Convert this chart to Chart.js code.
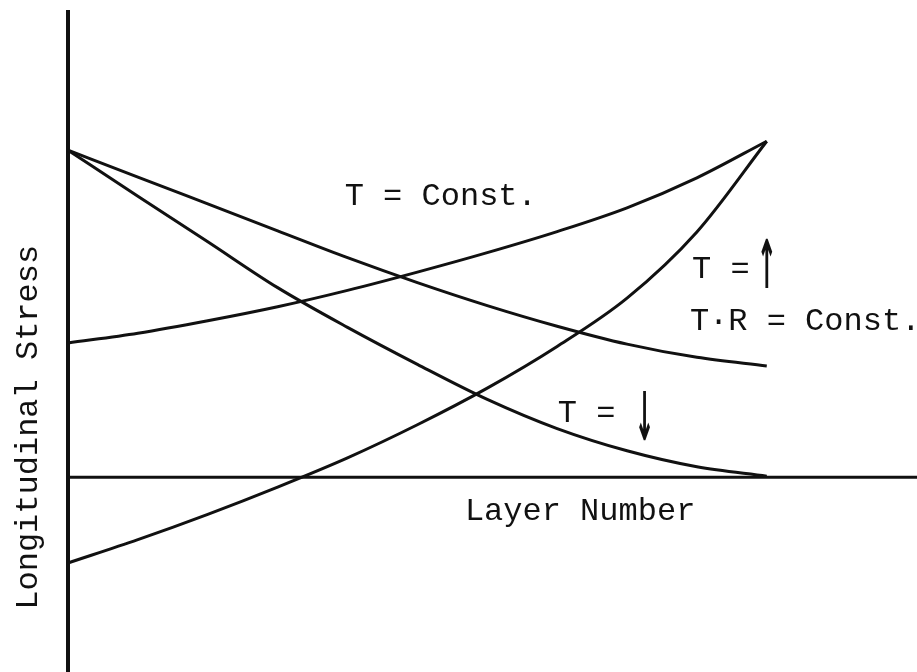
<!DOCTYPE html>
<html>
<head>
<meta charset="utf-8">
<script src="https://cdn.jsdelivr.net/npm/chart.js@4.4.1/dist/chart.umd.min.js"></script>
<style>
  html, body { margin: 0; padding: 0; background: #fff; }
  #wrap { width: 917px; height: 672px; }
</style>
</head>
<body>
<div id="wrap"><canvas id="c" width="917" height="672"></canvas></div>
<script>
// Layer numbers (x values)
const layers = [0, 1, 2, 3, 4, 5, 6, 7, 8, 9, 10];

// Longitudinal stress (arbitrary units)
const stressUpperFalling = [8.4, 7.71, 7.02, 6.33, 5.64, 5.0, 4.41, 3.88, 3.42, 3.08, 2.86];
const stressLowerFalling = [8.4, 7.22, 6.05, 4.87, 3.85, 2.9, 2.0, 1.25, 0.68, 0.27, 0.03];
const stressUpperRising  = [3.45, 3.7, 4.02, 4.38, 4.8, 5.27, 5.77, 6.31, 6.92, 7.69, 8.63];
const stressLowerRising  = [-2.2, -1.6, -0.95, -0.25, 0.5, 1.35, 2.29, 3.36, 4.6, 6.3, 8.63];

// Axis extents
const xRange = [0, 12.15];
const yRange = [-5, 12];

// Text
const xTitle = 'Layer Number';
const yTitle = 'Longitudinal Stress';
const curveLabels = [
  { text: 'T = Const.', x: 3.96, y: 6.99 },
  { text: 'T·R = Const.', x: 8.9, y: 3.78 },
  { text: 'T =', x: 8.93, y: 5.12, arrow: '↑', ax: 10.0, ay: 5.32 },
  { text: 'T =', x: 7.01, y: 1.42, arrow: '↓', ax: 8.25, ay: 1.41 }
];

const toPts = arr => arr.map((v, i) => ({ x: layers[i], y: v }));

const curveStyle = {
  borderColor: '#111',
  borderWidth: 3,
  pointRadius: 0,
  fill: false,
  cubicInterpolationMode: 'monotone',
  clip: false
};

const MONO = '"Liberation Mono", "DejaVu Sans Mono", monospace';

const textPlugin = {
  id: 'sketchText',
  afterDatasetsDraw(chart) {
    const ctx = chart.ctx;
    const xs = chart.scales.x, ys = chart.scales.y;
    ctx.save();
    ctx.fillStyle = '#111';
    ctx.font = '32px ' + MONO;
    ctx.textBaseline = 'alphabetic';
    ctx.textAlign = 'left';
    curveLabels.forEach(l => {
      const px = xs.getPixelForValue(l.x), py = ys.getPixelForValue(l.y);
      ctx.fillText(l.text, px, py);
      if (l.arrow) {
        const axp = xs.getPixelForValue(l.ax), ayp = ys.getPixelForValue(l.ay);
        ctx.save();
        ctx.translate(axp, ayp);
        ctx.scale(0.75, 2.1);
        ctx.font = 'bold 32px "DejaVu Sans"';
        ctx.textAlign = 'center';
        ctx.textBaseline = 'middle';
        ctx.fillText(l.arrow, 0, 0);
        ctx.restore();
      }
    });
    // x title
    ctx.font = '32px ' + MONO;
    ctx.fillText(xTitle, xs.getPixelForValue(5.68), ys.getPixelForValue(-1.1));
    // y title (rotated)
    ctx.save();
    ctx.translate(xs.getPixelForValue(0) - 31, ys.getPixelForValue(-3.4));
    ctx.rotate(-Math.PI / 2);
    ctx.fillText(yTitle, 0, 0);
    ctx.restore();
    ctx.restore();
  }
};

new Chart(document.getElementById('c'), {
  type: 'line',
  data: {
    datasets: [
      Object.assign({ label: 'T·R = Const.', data: toPts(stressUpperFalling) }, curveStyle),
      Object.assign({ label: 'T = ↓', data: toPts(stressLowerFalling) }, curveStyle),
      Object.assign({ label: 'T = Const.', data: toPts(stressUpperRising) }, curveStyle),
      Object.assign({ label: 'T = ↑', data: toPts(stressLowerRising) }, curveStyle),
      { label: 'x axis', data: [{ x: xRange[0], y: 0 }, { x: xRange[1], y: 0 }],
        borderColor: '#111', borderWidth: 3, pointRadius: 0, clip: false },
      { label: 'y axis', data: [{ x: 0, y: yRange[0] }, { x: 0, y: yRange[1] }],
        borderColor: '#111', borderWidth: 4, pointRadius: 0, clip: false }
    ]
  },
  options: {
    responsive: false,
    animation: false,
    events: [],
    layout: { padding: { left: 68, right: 0, top: 10, bottom: 0 } },
    plugins: { legend: { display: false }, tooltip: { enabled: false } },
    scales: {
      x: { type: 'linear', min: xRange[0], max: xRange[1], display: false },
      y: { type: 'linear', min: yRange[0], max: yRange[1], display: false }
    }
  },
  plugins: [textPlugin]
});
</script>
</body>
</html>
